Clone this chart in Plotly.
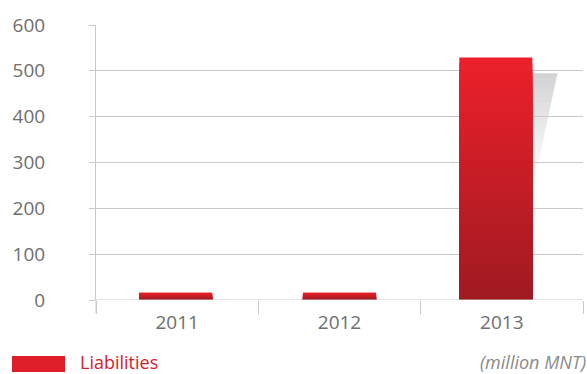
import plotly.graph_objects as go

# Liabilities by year (million MNT)
years = ["2011", "2012", "2013"]
liabilities = [16, 16, 529]
y_ticks = [0, 100, 200, 300, 400, 500, 600]

TOP_RGB = (236, 32, 42)
BOTTOM_RGB = (160, 26, 34)
N_STEPS = 40
BAR_WIDTH = 0.45
# small per-bar horizontal nudge (category units)
BAR_SHIFT = [-0.01, 0.0, -0.037]
bar_offsets = [-BAR_WIDTH / 2 + s for s in BAR_SHIFT]

fig = go.Figure()

# Soft drop shadow to the right of the tall bar: a slanted wedge that fades downward
N_BANDS = 24
for i, v in enumerate(liabilities):
    if v < 100:
        continue
    x0 = i + bar_offsets[i] + BAR_WIDTH
    top = v * 0.935
    bottom = v * 0.45
    w = 0.155

    def right_edge(yv):
        return x0 + w * (yv - bottom) / (top - bottom)

    for k in range(N_BANDS):
        ya = top - (top - bottom) * k / N_BANDS
        yb = top - (top - bottom) * (k + 1) / N_BANDS
        op = 0.42 * (1 - k / N_BANDS) ** 1.3
        fig.add_shape(
            type="path",
            xref="x", yref="y",
            path=(f"M {x0},{ya} L {right_edge(ya)},{ya} "
                  f"L {right_edge(yb)},{yb} L {x0},{yb} Z"),
            fillcolor=f"rgba(150,150,156,{op:.3f})",
            line=dict(width=0),
            layer="below",
        )

# Vertical gradient on the bars: overlaid bars of decreasing height, darker toward the base
for s in range(N_STEPS):
    t = s / (N_STEPS - 1)
    r = round(TOP_RGB[0] + (BOTTOM_RGB[0] - TOP_RGB[0]) * t)
    g = round(TOP_RGB[1] + (BOTTOM_RGB[1] - TOP_RGB[1]) * t)
    b = round(TOP_RGB[2] + (BOTTOM_RGB[2] - TOP_RGB[2]) * t)
    frac = 1 - s / N_STEPS
    fig.add_trace(go.Bar(
        x=years,
        y=[v * frac for v in liabilities],
        width=BAR_WIDTH,
        offset=bar_offsets,
        marker=dict(color=f"rgb({r},{g},{b})", line=dict(width=0)),
        showlegend=False,
        hoverinfo="skip",
    ))

grid = "#c9c9c9"
label_color = "#6e6e6e"
FONT = "Open Sans, sans-serif"

fig.update_layout(
    width=587, height=374,
    margin=dict(l=96, r=4, t=25, b=74),
    paper_bgcolor="white",
    plot_bgcolor="white",
    barmode="overlay",
    font=dict(family=FONT, color=label_color),
    xaxis=dict(
        type="category",
        showgrid=False,
        showline=False,
        ticks="outside",
        tickson="boundaries",
        ticklen=13,
        tickcolor=grid,
        tickwidth=1,
        tickfont=dict(size=19, color=label_color),
        ticklabelstandoff=9,
        zeroline=False,
    ),
    yaxis=dict(
        range=[0, 600],
        tickvals=y_ticks,
        showgrid=True,
        gridcolor=grid,
        gridwidth=1,
        ticks="outside",
        ticklen=6,
        tickcolor=grid,
        tickfont=dict(size=19, color=label_color),
        ticklabelstandoff=40,
        showline=True,
        linecolor=grid,
        linewidth=1,
        zeroline=False,
    ),
)

# Left axis line continues slightly below the baseline
fig.add_shape(type="line", xref="paper", yref="paper",
              x0=0, x1=0, y0=0, y1=-13 / 275,
              line=dict(color=grid, width=1))
# Baseline
fig.add_shape(type="line", xref="paper", yref="y",
              x0=0, x1=1, y0=0, y1=0,
              line=dict(color=grid, width=1), layer="above")

# Legend swatch and label
fig.add_shape(type="rect", xref="paper", yref="paper",
              x0=-84 / 487, x1=-31 / 487, y0=-56 / 275, y1=-72 / 275,
              fillcolor="rgb(222,30,40)", line=dict(width=0))
fig.add_annotation(xref="paper", yref="paper", x=-17 / 487, y=-62 / 275,
                   text="Liabilities", showarrow=False, xanchor="left", yanchor="middle",
                   borderpad=0,
                   font=dict(size=18, color="rgb(214,32,40)", family=FONT))
fig.add_annotation(xref="paper", yref="paper", x=1.008, y=-62 / 275,
                   text="<i>(million MNT)</i>", showarrow=False, xanchor="right", yanchor="middle",
                   borderpad=0,
                   font=dict(size=18, color="#8a8a8a", family=FONT))

fig.write_html("out.html")
